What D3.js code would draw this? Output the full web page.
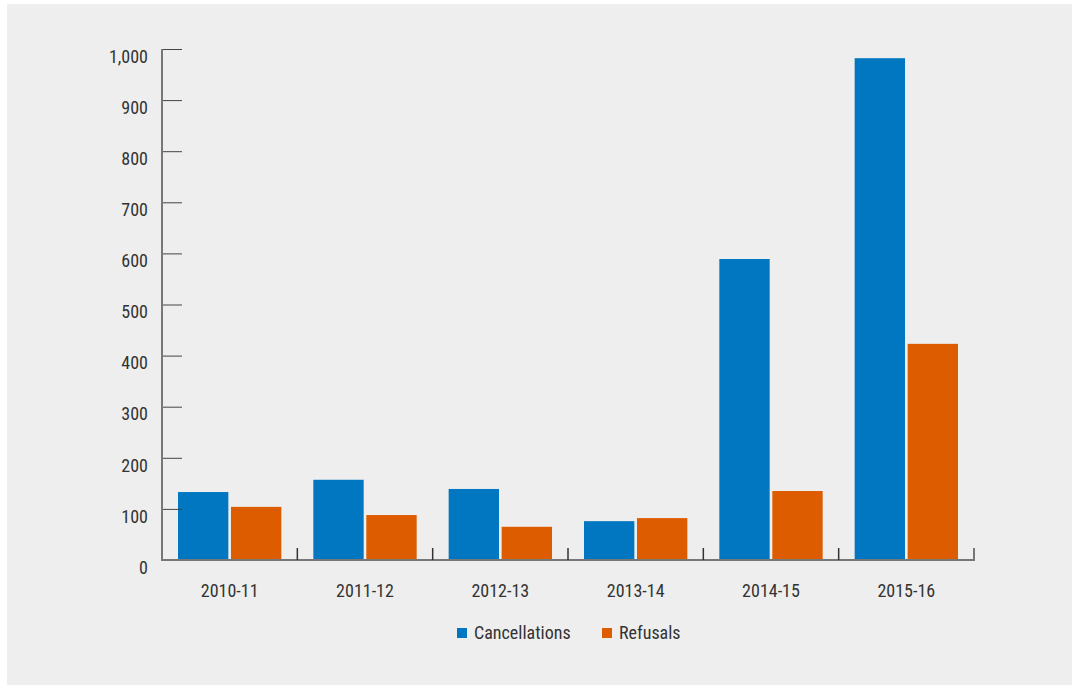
<!DOCTYPE html>
<html><head><meta charset="utf-8">
<script src="https://cdn.jsdelivr.net/npm/d3@7"></script>
<style>
html,body{margin:0;padding:0;background:#fff;}
svg{display:block;}
text{font-family:"Liberation Sans Narrow","Arial Narrow","Roboto Condensed",sans-serif;fill:#333;}
</style></head>
<body>
<svg id="chart" width="1072" height="685"></svg>
<script>
const categories = ["2010-11","2011-12","2012-13","2013-14","2014-15","2015-16"];
const seriesNames = ["Cancellations","Refusals"];
const cancellations = [133, 157, 139, 76, 589, 982];
const refusals = [104, 88, 65, 82, 135, 423];
const yTicks = [0,100,200,300,400,500,600,700,800,900,1000];
const colors = ["#0077c0","#dd5c00"];

const svg = d3.select("#chart");
svg.append("rect").attr("x",7).attr("y",4).attr("width",1065).attr("height",681).attr("fill","#eeeeee");

const x0 = 162, x1 = 974, yTop = 49, yBot = 560;
const x = d3.scaleBand().domain(categories).range([x0,x1]).paddingInner(0).paddingOuter(0);
const y = d3.scaleLinear().domain([0,1000]).range([yBot,yTop]);
const inner = d3.scaleBand().domain(seriesNames).range([16, x.bandwidth()-16]).paddingInner(0.05);

const data = [cancellations, refusals];
const g = svg.append("g");
seriesNames.forEach((s,si)=>{
  g.selectAll(".bar"+si).data(categories).enter().append("rect")
    .attr("x",c=>x(c)+inner(s))
    .attr("width",inner.bandwidth())
    .attr("y",(c,i)=>y(data[si][i]))
    .attr("height",(c,i)=>yBot-y(data[si][i]))
    .attr("fill",colors[si]);
});

// Y axis
const yAxis = d3.axisRight(y).tickValues(yTicks).tickSize(20).tickFormat("");
const ya = svg.append("g").attr("transform",`translate(${x0},0)`).call(yAxis);
ya.select(".domain").remove();
ya.selectAll(".tick line").attr("stroke","#444").attr("stroke-width",1);
svg.append("line").attr("x1",x0).attr("x2",x0).attr("y1",yTop).attr("y2",yBot+1).attr("stroke","#777").attr("stroke-width",2);
svg.append("g").selectAll("text").data(yTicks).enter().append("text")
  .attr("x",148).attr("y",d=>y(d)+9).attr("text-anchor","end").attr("dominant-baseline","middle")
  .attr("font-size",18).text(d=>d3.format(",")(d));

// X axis
svg.append("line").attr("x1",x0).attr("x2",x1+1).attr("y1",yBot).attr("y2",yBot).attr("stroke","#777").attr("stroke-width",2);
const bounds = categories.map(c=>x(c)+x.bandwidth());
svg.append("g").selectAll("line").data(bounds).enter().append("line")
  .attr("x1",d=>d).attr("x2",d=>d).attr("y1",yBot-12).attr("y2",yBot)
  .attr("stroke",(d,i)=>i===bounds.length-1?"#777":"#333").attr("stroke-width",(d,i)=>i===bounds.length-1?2:1.5);
svg.append("g").selectAll("text").data(categories).enter().append("text")
  .attr("x",c=>x(c)+x.bandwidth()/2).attr("y",592).attr("text-anchor","middle").attr("dominant-baseline","middle")
  .attr("font-size",18).text(c=>c);

// Legend
const legX = [457, 602];
const leg = svg.append("g");
seriesNames.forEach((s,i)=>{
  leg.append("rect").attr("x",legX[i]).attr("y",628).attr("width",10).attr("height",10).attr("fill",colors[i]);
  leg.append("text").attr("x",legX[i]+17).attr("y",634).attr("dominant-baseline","middle").attr("font-size",18).text(s);
});
</script>
</body></html>
